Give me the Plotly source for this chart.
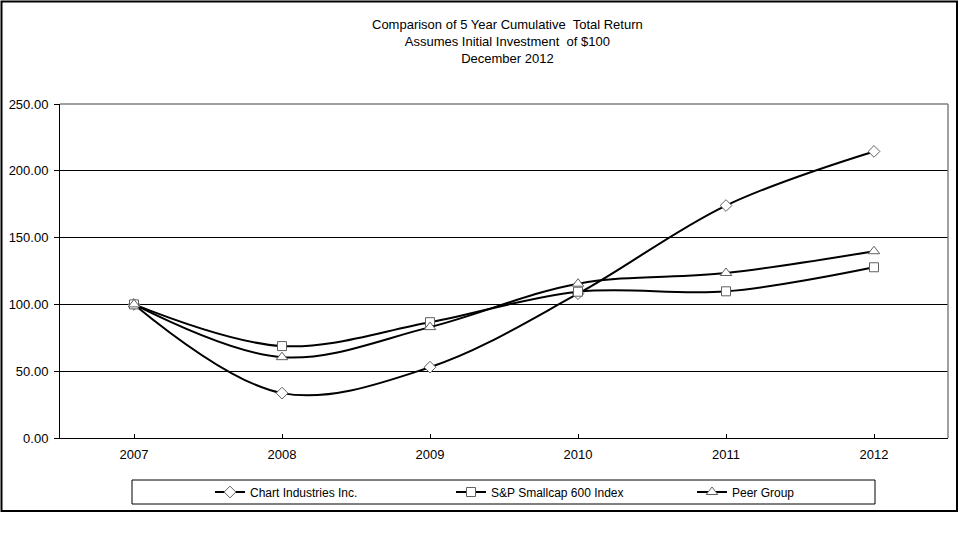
import plotly.graph_objects as go

years = ["2007", "2008", "2009", "2010", "2011", "2012"]
chart_ind = [100.0, 33.6, 53.0, 108.0, 174.0, 214.5]
sp600 = [100.0, 68.8, 86.7, 109.5, 109.8, 127.8]
peer = [100.0, 60.5, 83.0, 115.5, 123.5, 139.8]

series = [
    ("Chart Industries Inc.", chart_ind, "diamond", 9),
    ("S&P Smallcap 600 Index", sp600, "square", 9),
    ("Peer Group", peer, "triangle-up", 10),
]

xpos = list(range(len(years)))
W, H = 963, 540
L, R, T, B = 60, 948, 104, 438

def px(x):
    return (x - L) / (R - L)

def py(y):
    return (B - y) / (B - T)

fig = go.Figure()
for name, vals, sym, sz in series:
    fig.add_trace(go.Scatter(
        x=xpos, y=vals, name=name, mode="lines+markers",
        line=dict(color="black", width=2, shape="spline", smoothing=1),
        marker=dict(symbol=sym, size=sz, color="white",
                    line=dict(color="#606060", width=1)),
    ))

font = "Liberation Sans, Arial, sans-serif"
fig.update_layout(
    width=W, height=H,
    margin=dict(l=L, r=W - R, t=T, b=H - B, pad=0, autoexpand=False),
    paper_bgcolor="white", plot_bgcolor="white",
    font=dict(family=font, size=12, color="black"),
    showlegend=True,
    legend=dict(orientation="h", x=px(210), xanchor="left", y=py(492), yanchor="middle",
                bgcolor="rgba(0,0,0,0)", borderwidth=0, font=dict(size=12),
                itemwidth=30, entrywidth=196, entrywidthmode="pixels"),
    xaxis=dict(range=[-0.5, 5.5], tickvals=xpos, ticktext=years, showgrid=False,
               zeroline=False, showline=True, linecolor="black", linewidth=1,
               ticks="inside", ticklen=4, tickcolor="black", tickfont=dict(size=13),
               ticklabelstandoff=4, automargin=False, fixedrange=True),
    yaxis=dict(range=[0, 250], dtick=50, tickformat=".2f", showgrid=True,
               gridcolor="black", gridwidth=1, zeroline=False, showline=True,
               linecolor="black", linewidth=1, ticks="outside", ticklen=5,
               tickcolor="black", tickfont=dict(size=13), ticklabelstandoff=3,
               automargin=False, fixedrange=True),
    annotations=[dict(
        text="Comparison of 5 Year Cumulative  Total Return<br>Assumes Initial Investment  of $100<br>December 2012",
        xref="paper", yref="paper", x=px(507), y=py(42), xanchor="center", yanchor="middle",
        showarrow=False, font=dict(size=13), align="center")],
    shapes=[
        dict(type="line", xref="paper", yref="paper", x0=0, x1=1, y0=1, y1=1,
             line=dict(color="#808080", width=1.5)),
        dict(type="line", xref="paper", yref="paper", x0=1, x1=1, y0=0, y1=1,
             line=dict(color="#808080", width=1.5)),
        dict(type="rect", xref="paper", yref="paper", x0=px(132), x1=px(875),
             y0=py(480), y1=py(504), line=dict(color="black", width=1)),
        dict(type="rect", xref="paper", yref="paper", x0=px(1.5), x1=px(957),
             y0=py(1.5), y1=py(511), line=dict(color="black", width=2)),
    ],
)

fig.write_html("out.html", config={"displayModeBar": False},
               post_script="document.body.style.margin='0px';document.body.style.overflow='hidden';")
